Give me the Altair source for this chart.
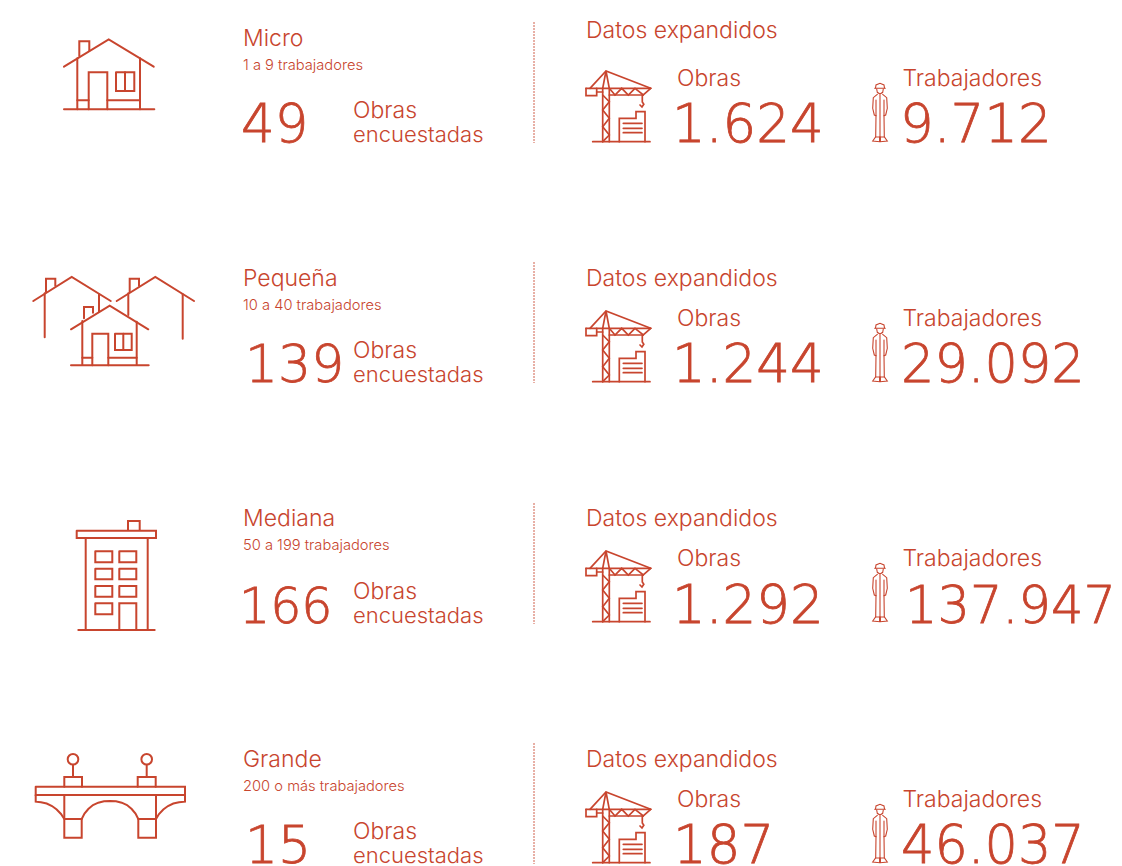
import altair as alt
import pandas as pd

COLOR = "#c8452e"
FONT = "Inter"
NUM_FONT = "DejaVu Sans"
W, H = 1114, 866

row_dy = [0, 240, 480, 721]
enc_dy = [0, 240, 481, 721]
names = ["Micro", "Pequeña", "Mediana", "Grande"]
ranges = ["1 a 9 trabajadores", "10 a 40 trabajadores", "50 a 199 trabajadores", "200 o más trabajadores"]
surveyed = ["49", "139", "166", "15"]
surveyed_x = [241, 245, 239, 245]
surveyed_fs = [53, 52, 49, 52]
works = ["1.624", "1.244", "1.292", "187"]
works_x = [672, 672, 672, 673]
workers = ["9.712", "29.092", "137.947", "46.037"]
workers_x = [900, 901, 905, 901]
workers_fs = [53, 52.5, 51, 52.5]
datos_y = [38, 286, 526, 767]

house = [
    [(64, 66.7), (108.7, 39.3), (153.7, 66.7)],
    [(79.3, 56), (79.3, 41.3), (89.3, 41.3), (89.3, 50.7)],
    [(77.3, 58.3), (77.3, 109.3)],
    [(140, 58.3), (140, 109.3)],
    [(64, 109.3), (154.3, 109.3)],
    [(88.7, 109.3), (88.7, 72.3), (107.3, 72.3), (107.3, 109.3)],
    [(116, 72.3), (134.3, 72.3), (134.3, 91), (116, 91), (116, 72.3)],
    [(125, 72.3), (125, 91)],
    [(77.3, 100.3), (88.7, 100.3)],
    [(107.3, 100.3), (140, 100.3)],
]
houses = [
    [(71, 329.3), (109.7, 305.7), (148.3, 329.3)],
    [(84, 318.3), (84, 307), (93, 307), (93, 312.7)],
    [(82.3, 321), (82.3, 365)],
    [(136.7, 321.7), (136.7, 365)],
    [(71, 365.3), (148.7, 365.3)],
    [(92.3, 365.3), (92.3, 333.7), (108.3, 333.7), (108.3, 365.3)],
    [(115, 333.7), (131.7, 333.7), (131.7, 350), (115, 350), (115, 333.7)],
    [(123.3, 333.7), (123.3, 350)],
    [(82.3, 357.7), (92.3, 357.7)],
    [(108.3, 357.7), (136.7, 357.7)],
    [(33.3, 301), (71.7, 277), (110.7, 301)],
    [(46, 291.7), (46, 278.7), (55.3, 278.7), (55.3, 285.7)],
    [(44.7, 293.3), (44.7, 337.3)],
    [(99, 294.3), (99, 311.7)],
    [(116.7, 301), (155.3, 277), (194, 301)],
    [(129.7, 291.7), (129.7, 278.7), (139, 278.7), (139, 285.7)],
    [(128.3, 293.3), (128.3, 315)],
    [(182.7, 294.3), (182.7, 338.7)],
]
tower = [
    [(128, 530), (128, 521), (139.7, 521), (139.7, 530)],
    [(76.7, 530.7), (156, 530.7), (156, 538), (76.7, 538), (76.7, 530.7)],
    [(85.7, 538), (85.7, 630)],
    [(147.7, 538), (147.7, 630)],
    [(78.3, 630), (154.7, 630)],
    [(119.3, 630), (119.3, 603.3), (136.3, 603.3), (136.3, 630)],
    [(95.3, 551.3), (112.3, 551.3), (112.3, 562.3), (95.3, 562.3), (95.3, 551.3)],
    [(119.3, 551.3), (136.3, 551.3), (136.3, 562.3), (119.3, 562.3), (119.3, 551.3)],
    [(95.3, 568.7), (112.3, 568.7), (112.3, 579.3), (95.3, 579.3), (95.3, 568.7)],
    [(119.3, 568.7), (136.3, 568.7), (136.3, 579.3), (119.3, 579.3), (119.3, 568.7)],
    [(95.3, 586), (112.3, 586), (112.3, 596.7), (95.3, 596.7), (95.3, 586)],
    [(119.3, 586), (136.3, 586), (136.3, 596.7), (119.3, 596.7), (119.3, 586)],
    [(95.3, 603.3), (112.3, 603.3), (112.3, 614.3), (95.3, 614.3), (95.3, 603.3)],
]
bridge = [
    [(35.7, 786.7), (185, 786.7), (185, 795), (35.7, 795), (35.7, 786.7)],
    [(35.7, 795), (35.7, 801.7), (41, 802.2), (46.7, 803.5), (52, 806), (56.7, 809.5), (61, 814), (64.3, 819)],
    [(185, 795), (185, 801.7), (179, 802.2), (173.3, 803.5), (168, 806), (163.3, 809.5), (159, 814), (156, 819)],
    [(81.7, 819), (84.5, 813.5), (88.3, 809), (93, 805), (98.3, 802.7), (104, 801.3), (110, 801), (116, 801.3),
     (121.7, 802.7), (127, 805), (131.7, 809), (135.5, 813.5), (138.3, 819)],
    [(64.3, 795), (64.3, 837.7), (81.7, 837.7), (81.7, 819), (64.3, 819)],
    [(156, 795), (156, 837.7), (138.3, 837.7), (138.3, 819), (156, 819)],
    [(64.3, 786.7), (64.3, 777), (82, 777), (82, 786.7)],
    [(137.7, 786.7), (137.7, 777), (155.7, 777), (155.7, 786.7)],
    [(73, 765), (73, 777)],
    [(146.7, 765), (146.7, 777)],
]
bridge_lamps_x = [73, 146.7]
bridge_lamps_y = [759.3, 759.3]

crane = [
    [(602.7, 88.3), (602.7, 141.7)],
    [(609.3, 88.3), (609.3, 141.7)],
    [(602.7, 88.3), (606, 71), (609.3, 88.3)],
    [(590, 88.3), (606, 71), (650.7, 88.3)],
    [(586, 88.3), (650.7, 88.3)],
    [(609.3, 95), (643.3, 95)],
    [(586, 88.3), (586, 95.7), (596.7, 95.7), (596.7, 88.3)],
    [(596.7, 92), (602.7, 92)],
    [(609.3, 88.3), (615, 95), (621.7, 88.3), (628.3, 95), (635, 88.3), (643.3, 95), (650.7, 88.3)],
    [(602.7, 95), (609.3, 101.7), (602.7, 110), (609.3, 118.3), (602.7, 126.7), (609.3, 135), (602.7, 141.7)],
    [(642.3, 95), (642.3, 102), (643.8, 104.3), (642, 107), (640, 105)],
    [(619.3, 141.7), (619.3, 118.3), (636, 118.3), (636, 111.7), (645, 111.7), (645, 141.7)],
    [(623.3, 123.3), (642, 123.3)],
    [(623.3, 128.3), (642, 128.3)],
    [(623.3, 132.7), (642, 132.7)],
    [(592.7, 141.7), (650, 141.7)],
]
worker = [
    [(874.7, 88.3), (885.3, 88.3)],
    [(875.5, 88), (876, 85), (880, 83.3), (884, 85), (884.5, 88)],
    [(876.7, 89), (877.3, 92.3), (880, 94), (882.7, 92.3), (883.3, 89)],
    [(877.3, 94.3), (873.3, 97.7), (872.7, 108.3), (874.3, 115), (876, 115.7), (875.7, 136.7), (872.7, 141), (879.6, 141.7), (879.6, 137)],
    [(882.7, 94.3), (886.7, 97.7), (887.3, 108.3), (885.7, 115), (884, 115.7), (884.3, 136.7), (887.3, 141), (880.4, 141.7), (880.4, 137)],
    [(880, 95), (880, 137)],
    [(876, 100), (876, 115.7)],
    [(884, 100), (884, 115.7)],
    [(875.7, 137), (884.3, 137)],
]

rule_top = [22, 262, 503, 743]
rule_bottom = [143, 383, 624, 864]
rule_x = [534, 534, 534, 534]

# ---- tables built from the lists above ----
texts = []
nums = []
for i in range(4):
    d = row_dy[i]
    e = enc_dy[i]
    texts += [
        (243, 46 + d, names[i], 23),
        (243, 70 + d, ranges[i], 14.7),
        (353, 118 + e, "Obras", 23),
        (353, 142 + e, "encuestadas", 22),
        (586, datos_y[i], "Datos expandidos", 23),
        (677, 86 + d + (1 if i == 3 else 0) - (1 if i == 3 else 0), "Obras", 23),
        (902.5, 86 + d, "Trabajadores", 23),
    ]
    nums += [
        (surveyed_x[i], 142 + e, surveyed[i], surveyed_fs[i]),
        (works_x[i], 142 + e, works[i], 53),
        (workers_x[i], 142 + e, workers[i], workers_fs[i]),
    ]
text_df = pd.DataFrame(texts, columns=["x", "y", "label", "fs"])
num_df = pd.DataFrame(nums, columns=["x", "y", "label", "fs"])


def add_paths(rows, group, paths, dy, sw):
    for j, path in enumerate(paths):
        for k, (px, py) in enumerate(path):
            rows.append(dict(x=px, y=py + dy, pid=f"{group}-{j}", k=k, sw=sw))


rows = []
add_paths(rows, "house", house, 0, 2)
add_paths(rows, "houses", houses, 0, 2)
add_paths(rows, "tower", tower, 0, 2)
add_paths(rows, "bridge", bridge, 0, 2)
for i, d in enumerate(row_dy):
    add_paths(rows, f"crane{i}", crane, d, 1.7)
    add_paths(rows, f"worker{i}", worker, d, 1.1)
path_df = pd.DataFrame(rows)

xs = alt.Scale(domain=[8, W], nice=False, zero=False)
ys = alt.Scale(domain=[H, 8], nice=False, zero=False)
X = alt.X("x:Q", scale=xs, axis=None)
Y = alt.Y("y:Q", scale=ys, axis=None)

lines = alt.Chart(path_df).mark_line(color=COLOR, strokeCap="round", strokeJoin="miter", clip=False).encode(
    x=X, y=Y, detail="pid:N", order="k:Q",
    strokeWidth=alt.StrokeWidth("sw:Q", scale=None),
)
lamps = alt.Chart(pd.DataFrame({"x": bridge_lamps_x, "y": bridge_lamps_y})).mark_point(
    shape="circle", size=113, color=COLOR, strokeWidth=2, filled=False, opacity=1
).encode(x=X, y=Y)
rules = alt.Chart(pd.DataFrame({"x": rule_x, "y": rule_top, "y2": rule_bottom})).mark_rule(
    color=COLOR, strokeWidth=1, strokeDash=[2, 1], opacity=0.85
).encode(x=X, y=Y, y2="y2:Q")
labels = alt.Chart(text_df).mark_text(
    align="left", baseline="alphabetic", font=FONT, fontWeight=300, color=COLOR
).encode(x=X, y=Y, text="label:N", size=alt.Size("fs:Q", scale=None))
numbers = alt.Chart(num_df).mark_text(
    align="left", baseline="alphabetic", font=NUM_FONT, fontWeight=200, color=COLOR,
    stroke=COLOR, strokeWidth=0.8
).encode(x=X, y=Y, text="label:N", size=alt.Size("fs:Q", scale=None))

chart = (
    alt.layer(rules, lines, lamps, labels, numbers)
    .properties(width=W - 8, height=H - 8, padding=0, background="white",
                autosize=alt.AutoSizeParams(type="none"))
    .configure_view(stroke=None)
)
chart.save("out.html", embed_options={"renderer": "svg", "actions": False})
